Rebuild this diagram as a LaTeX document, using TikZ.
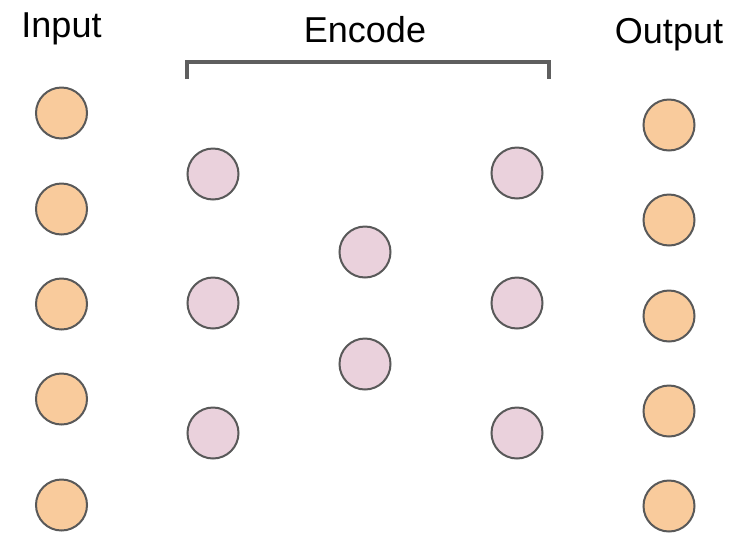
\documentclass[tikz,border=0pt]{standalone}
\usepackage{fontspec}
\setmainfont{Liberation Sans}
\definecolor{inorange}{HTML}{F9CB9C}
\definecolor{hidpink}{HTML}{EAD1DC}
\definecolor{edgegray}{HTML}{595959}
\definecolor{brackgray}{HTML}{5F5F5F}
\begin{document}
\begin{tikzpicture}[x=1pt,y=-1pt,
  neuron/.style={circle,draw=edgegray,line width=2pt,minimum size=51pt,inner sep=0pt},
  inneuron/.style={neuron,fill=inorange},
  hidneuron/.style={neuron,fill=hidpink},
  title/.style={font=\fontsize{36}{40}\selectfont,anchor=base,inner sep=0pt},
  bracket/.style={draw=brackgray,line width=3.5pt}]
\useasboundingbox (0,0) rectangle (748,558);
\node[title] (tin) at (61.5,37) {Input};
\node[title] (tenc) at (365,42) {Encode};
\node[title] (tout) at (669,43) {Output};
\coordinate (b1) at (187,79);
\coordinate (b2) at (187,62);
\coordinate (b3) at (549,62);
\coordinate (b4) at (549,79);
\draw[bracket] (b1) -- (b2) -- (b3) -- (b4);
\foreach \y [count=\i] in {113,209,304,399,505}
  \node[inneuron] (i\i) at (61.5,\y) {};
\foreach \y [count=\i] in {125,220,316,411,506}
  \node[inneuron] (o\i) at (669,\y) {};
\foreach \y [count=\i] in {174,303,433}
  \node[hidneuron] (a\i) at (213,\y) {};
\foreach \y [count=\i] in {252,364}
  \node[hidneuron] (c\i) at (365,\y) {};
\foreach \y [count=\i] in {173,303,433}
  \node[hidneuron] (d\i) at (517,\y) {};
\end{tikzpicture}
\end{document}
